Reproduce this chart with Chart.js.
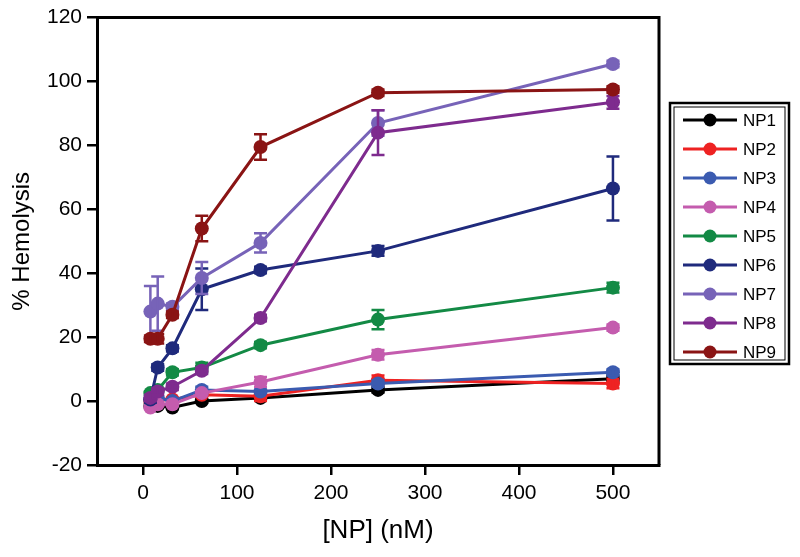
<!DOCTYPE html>
<html>
<head>
<meta charset="utf-8">
<script src="https://cdn.jsdelivr.net/npm/chart.js@4/dist/chart.umd.min.js"></script>
<style>
  html, body { margin: 0; padding: 0; background: #fff; }
  #chart { width: 800px; height: 557px; }
</style>
</head>
<body>
<div id="chart"><canvas id="myChart" width="800" height="557"></canvas></div>
<script>
// concentrations (nM)
const concentrations = [7.8, 15.6, 31.25, 62.5, 125, 250, 500];
const xTicks = [0, 100, 200, 300, 400, 500];
const seriesNames = ['NP1', 'NP2', 'NP3', 'NP4', 'NP5', 'NP6', 'NP7', 'NP8', 'NP9'];
const seriesColors = ['#000000', '#ee2222', '#3b5bb0', '#c45cae', '#138a45', '#1f2a7c', '#7763b8', '#7e2b8e', '#8a1414'];

// % hemolysis, one array per NP
const np1 = [-1.5, -1.5, -2, 0, 1, 3.5, 7];
const np2 = [0, 0.5, 0.5, 2, 1.5, 6.5, 5.5];
const np3 = [0.5, 1, 0, 3.5, 3, 5.5, 9];
const np4 = [-2, -1, -1, 2.5, 6, 14.5, 23];
const np5 = [2.5, 3.5, 9, 10.5, 17.5, 25.5, 35.5];
const np6 = [0.5, 10.5, 16.5, 35, 41, 47, 66.5];
const np7 = [28, 30.5, 29.5, 38.5, 49.5, 87, 105.5];
const np8 = [1, 3, 4.5, 9.5, 26, 84, 93.5];
const np9 = [19.5, 19.5, 27, 54, 79.5, 96.5, 97.5];

// error bars (+/-)
const np1Err = [0.5, 0.5, 0.5, 0.5, 0.5, 0.8, 1];
const np2Err = [0.5, 0.5, 0.5, 0.5, 1.5, 1.5, 1.5];
const np3Err = [0.5, 0.5, 0.5, 1, 0.5, 1, 1];
const np4Err = [0.5, 0.5, 0.5, 0.5, 1.5, 1.5, 1];
const np5Err = [0.5, 0.5, 1, 1.5, 1, 3, 1.5];
const np6Err = [1, 1, 1, 6.5, 1, 1.5, 10];
const np7Err = [8, 8.5, 1, 5, 3, 4, 1];
const np8Err = [1, 1, 1, 1, 1, 7, 2];
const np9Err = [1, 1.5, 1, 4, 4, 1, 1];

const values = [np1, np2, np3, np4, np5, np6, np7, np8, np9];
const errors = [np1Err, np2Err, np3Err, np4Err, np5Err, np6Err, np7Err, np8Err, np9Err];

const font = "'Liberation Sans', Arial, sans-serif";

const datasets = seriesNames.map((name, i) => ({
  label: name,
  data: concentrations.map((x, j) => ({ x: x, y: values[i][j] })),
  errors: errors[i],
  borderColor: seriesColors[i],
  backgroundColor: seriesColors[i],
  borderWidth: 3,
  pointRadius: 7,
  pointHoverRadius: 7,
  pointBorderWidth: 0,
  tension: 0,
  order: 9 - i
}));

// error bars drawn right after each dataset
const errorBars = {
  id: 'errorBars',
  afterDatasetDraw(chart, args) {
    const ds = chart.data.datasets[args.index];
    const ctx = chart.ctx;
    const x = chart.scales.x, y = chart.scales.y;
    ctx.save();
    ctx.strokeStyle = ds.borderColor;
    ctx.lineWidth = 2.5;
    ds.data.forEach((p, j) => {
      const e = ds.errors[j];
      const px = x.getPixelForValue(p.x);
      const top = y.getPixelForValue(p.y + e);
      const bot = y.getPixelForValue(p.y - e);
      ctx.beginPath();
      ctx.moveTo(px, top); ctx.lineTo(px, bot);
      ctx.moveTo(px - 6.5, top); ctx.lineTo(px + 6.5, top);
      ctx.moveTo(px - 6.5, bot); ctx.lineTo(px + 6.5, bot);
      ctx.stroke();
    });
    ctx.restore();
  }
};

// top/right frame and the boxed legend
const frameAndLegend = {
  id: 'frameAndLegend',
  afterDraw(chart) {
    const ctx = chart.ctx;
    const a = chart.chartArea;
    ctx.save();
    ctx.strokeStyle = '#000';
    ctx.lineWidth = 3;
    ctx.beginPath();
    ctx.moveTo(a.left, a.top); ctx.lineTo(a.right, a.top); ctx.lineTo(a.right, a.bottom);
    ctx.stroke();

    // legend box
    const lx = 670, ly = 103, lw = 119, lh = 261;
    ctx.lineWidth = 2.5;
    ctx.strokeRect(lx, ly, lw, lh);
    ctx.lineWidth = 1;
    ctx.strokeRect(lx + 4, ly + 4, lw - 8, lh - 8);

    ctx.font = '17px ' + font;
    ctx.textBaseline = 'middle';
    ctx.textAlign = 'left';
    chart.data.datasets.forEach((ds, i) => {
      const cy = 120 + i * 29;
      ctx.strokeStyle = ds.borderColor;
      ctx.lineWidth = 3;
      ctx.beginPath();
      ctx.moveTo(683, cy); ctx.lineTo(737, cy);
      ctx.stroke();
      ctx.fillStyle = ds.borderColor;
      ctx.beginPath();
      ctx.arc(710, cy, 6.5, 0, Math.PI * 2);
      ctx.fill();
      ctx.fillStyle = '#000';
      ctx.fillText(ds.label, 743, cy + 1);
    });
    ctx.restore();
  }
};

const axisGrid = {
  display: true,
  drawOnChartArea: false,
  drawTicks: true,
  tickLength: 10,
  lineWidth: 2.5,
  tickWidth: 2.5,
  color: '#000',
  tickColor: '#000'
};

new Chart(document.getElementById('myChart').getContext('2d'), {
  type: 'line',
  data: { datasets: datasets },
  options: {
    responsive: false,
    animation: false,
    devicePixelRatio: 1,
    layout: { padding: { left: 0, right: 141, top: 17, bottom: 0 } },
    plugins: {
      legend: { display: false },
      tooltip: { enabled: false }
    },
    scales: {
      x: {
        type: 'linear',
        min: -49,
        max: 549,
        afterBuildTicks: (scale) => { scale.ticks = xTicks.map(v => ({ value: v })); },
        afterFit: (scale) => { scale.height = 92; },
        grid: axisGrid,
        border: { display: true, width: 3, color: '#000' },
        ticks: { color: '#000', font: { family: font, size: 21 }, padding: 6, maxRotation: 0 },
        title: { display: true, text: '[NP] (nM)', color: '#000', font: { family: font, size: 26 }, padding: { top: 2, bottom: 11 } }
      },
      y: {
        min: -20,
        max: 120,
        afterFit: (scale) => { scale.width = 97; },
        grid: axisGrid,
        border: { display: true, width: 3, color: '#000' },
        ticks: { stepSize: 20, color: '#000', font: { family: font, size: 21 }, padding: 5 },
        title: { display: true, text: '% Hemolysis', color: '#000', font: { family: font, size: 24 }, padding: { top: 8, bottom: 4 } }
      }
    }
  },
  plugins: [errorBars, frameAndLegend]
});
</script>
</body>
</html>
